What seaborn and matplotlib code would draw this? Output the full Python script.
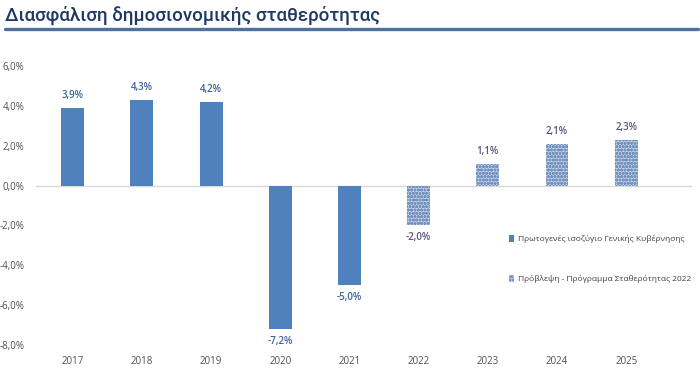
import numpy as np
import pandas as pd
import matplotlib
matplotlib.use('Agg')
import matplotlib.pyplot as plt
import seaborn as sns
from matplotlib.patches import Patch
from matplotlib.lines import Line2D

# --- Data ---
years = ['2017', '2018', '2019', '2020', '2021', '2022', '2023', '2024', '2025']
balance = [3.9, 4.3, 4.2, -7.2, -5.0, -2.0, 1.1, 2.1, 2.3]
is_forecast = [False, False, False, False, False, True, True, True, True]
yticks = [-8, -6, -4, -2, 0, 2, 4, 6]

title = 'Διασφάλιση δημοσιονομικής σταθερότητας'
legend_labels = ['Πρωτογενές ισοζύγιο Γενικής Κυβέρνησης',
                 'Πρόβλεψη - Πρόγραμμα Σταθερότητας 2022']

df = pd.DataFrame({'year': years, 'value': balance, 'forecast': is_forecast})

sns.set_style('white')
plt.rcParams['font.family'] = ['Open Sans', 'DejaVu Sans']
plt.rcParams['hatch.linewidth'] = 1.0

BLUE = '#4F81BD'
fig = plt.figure(figsize=(7, 3.74), dpi=100)
ax = fig.add_axes([0.051, 0.0775, 0.938, 0.746])

sns.barplot(data=df, x='year', y='value', color=BLUE, width=0.33,
            saturation=1, ax=ax)

# hatched look for the forecast years
for patch, fc in zip(ax.patches, df['forecast']):
    patch.set_linewidth(0)
    if fc:
        patch.set_facecolor('#C5D2E6')
        patch.set_edgecolor('#7593C0')
        patch.set_hatch('ooooo')

# value labels
for i, (v, fc) in enumerate(zip(df['value'], df['forecast'])):
    txt = f'{v:.1f}%'.replace('.', ',')
    col = '#5E547E' if fc else '#3F639A'
    off = 0.35 if v >= 0 else -0.35
    ax.text(i, v + off, txt, ha='center', va='bottom' if v >= 0 else 'top',
            fontsize=7, fontweight='semibold', color=col)

ax.axhline(0, color='#D9D9D9', lw=1, zorder=0)
ax.set_ylim(-8, 6)
ax.set_xlim(-0.535, 8.955)
ax.set_yticks(yticks)
ax.set_yticklabels([f'{t:.1f}%'.replace('.', ',') for t in yticks])
ax.tick_params(axis='both', labelsize=7, colors='#505050', length=0)
ax.tick_params(axis='y', pad=8)
ax.tick_params(axis='x', pad=8)
ax.set_xlabel('')
ax.set_ylabel('')
sns.despine(ax=ax, left=True, bottom=True)

handles = [Patch(facecolor=BLUE, linewidth=0),
           Patch(facecolor='#C5D2E6', edgecolor='#7593C0', hatch='ooooo', linewidth=0)]
ax.legend(handles, legend_labels, loc='upper left', bbox_to_anchor=(0.71, 0.42),
          frameon=False, fontsize=6.0, labelspacing=3.8, handlelength=0.6,
          handleheight=0.8, handletextpad=0.4, labelcolor='#404040')

# title and underline
fig.text(0.007, 0.944, title, fontsize=13.5, color='#1F3864', ha='left', va='baseline',
         family=['Roboto', 'DejaVu Sans'], fontweight='medium')
fig.add_artist(Line2D([0.007, 0.997], [0.922, 0.922], transform=fig.transFigure,
                      color='#4F6FA0', lw=2.4))

fig.savefig('out.png', dpi=100)
